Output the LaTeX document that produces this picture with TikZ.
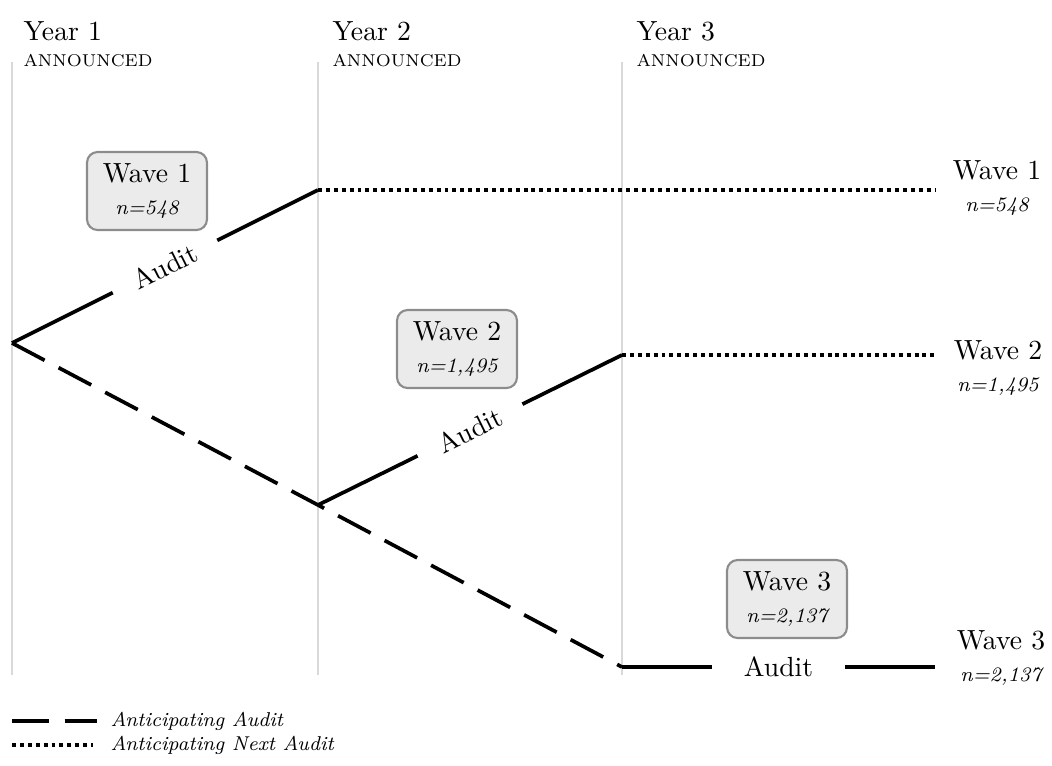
\documentclass[tikz,border=0pt]{standalone}
\usepackage{amsmath}
\usepackage{tikz}
\usetikzlibrary{positioning}

\tikzset{
	gridline/.style={draw=black!15, line width=0.8pt},
	auditpath/.style={line width=1.4pt},
	anticipate/.style={line width=1.4pt, dash pattern=on 14pt off 6pt},
	nextaudit/.style={line width=1.5pt, dash pattern=on 1.5pt off 1.5pt},
	yearlbl/.style={font=\fontsize{10.5}{12}\selectfont, inner sep=0pt, anchor=base west},
	annlbl/.style={font=\fontsize{6.5}{8}\selectfont, inner sep=0pt, anchor=base west},
	wavebox/.style={draw=black!45, fill=black!8, line width=0.8pt, rounded corners=4pt,
		minimum width=45.5pt, minimum height=29.6pt, inner sep=0pt, align=center,
		font=\fontsize{10.5}{11}\selectfont},
	wavelbl/.style={align=center, inner sep=0pt, font=\fontsize{10.5}{11}\selectfont},
	auditlbl/.style={fill=white, inner xsep=9pt, inner ysep=2pt, font=\fontsize{10.5}{12}\selectfont},
	legendlbl/.style={anchor=west, inner sep=0pt, font=\fontsize{7.6}{9}\selectfont\itshape}
}

\begin{document}
\begin{tikzpicture}[x=0.013333cm, y=-0.013333cm]
	\useasboundingbox (0,0) rectangle (1052,765);

	% years
	\draw[gridline] (12,62) -- (12,675);
	\draw[gridline] (318,62) -- (318,675);
	\draw[gridline] (622,62) -- (622,675);
	\node[yearlbl] (yr1) at (23,40) {Year 1};
	\node[yearlbl] (yr2) at (332,40) {Year 2};
	\node[yearlbl] (yr3) at (636,40) {Year 3};
	\node[annlbl] (ann1) at (23,66) {ANNOUNCED};
	\node[annlbl] (ann2) at (332,66) {ANNOUNCED};
	\node[annlbl] (ann3) at (636,66) {ANNOUNCED};

	% branch points
	\coordinate (root) at (12,343);
	\coordinate (up1) at (318,190);
	\coordinate (down1) at (318,505);
	\coordinate (up2) at (622,355);
	\coordinate (down2) at (622,667);
	\coordinate (end1) at (935,190);
	\coordinate (end2) at (935,355);
	\coordinate (end3) at (935,667);

	% paths
	\draw[anticipate] (root) -- (down1) -- (down2);
	\draw[auditpath] (root) -- node[auditlbl, sloped] {Audit} (up1);
	\draw[auditpath] (down1) -- node[auditlbl, sloped] {Audit} (up2);
	\draw[auditpath] (down2) -- node[auditlbl, inner xsep=12pt] {Audit} (end3);
	\draw[nextaudit] (up1) -- (end1);
	\draw[nextaudit] (up2) -- (end2);

	% wave boxes
	\node[wavebox] (box1) at (147,191) {Wave 1\\[1pt]{\fontsize{7.8}{9}\selectfont\itshape n=548}};
	\node[wavebox] (box2) at (457,349) {Wave 2\\[1pt]{\fontsize{7.8}{9}\selectfont\itshape n=1,495}};
	\node[wavebox] (box3) at (787,599) {Wave 3\\[1pt]{\fontsize{7.8}{9}\selectfont\itshape n=2,137}};

	% end labels
	\node[wavelbl] (lbl1) at (997,188) {Wave 1\\[1pt]{\fontsize{7.8}{9}\selectfont\itshape n=548}};
	\node[wavelbl] (lbl2) at (998,368) {Wave 2\\[1pt]{\fontsize{7.8}{9}\selectfont\itshape n=1,495}};
	\node[wavelbl] (lbl3) at (1001,658) {Wave 3\\[1pt]{\fontsize{7.8}{9}\selectfont\itshape n=2,137}};

	% legend
	\coordinate (leg1a) at (12,721);
	\coordinate (leg1b) at (97,721);
	\coordinate (leg2a) at (12,745);
	\coordinate (leg2b) at (93,745);
	\draw[anticipate] (leg1a) -- (leg1b);
	\draw[nextaudit] (leg2a) -- (leg2b);
	\node[legendlbl] (leglbl1) at (110,721) {Anticipating Audit};
	\node[legendlbl] (leglbl2) at (110,745) {Anticipating Next Audit};
\end{tikzpicture}
\end{document}
